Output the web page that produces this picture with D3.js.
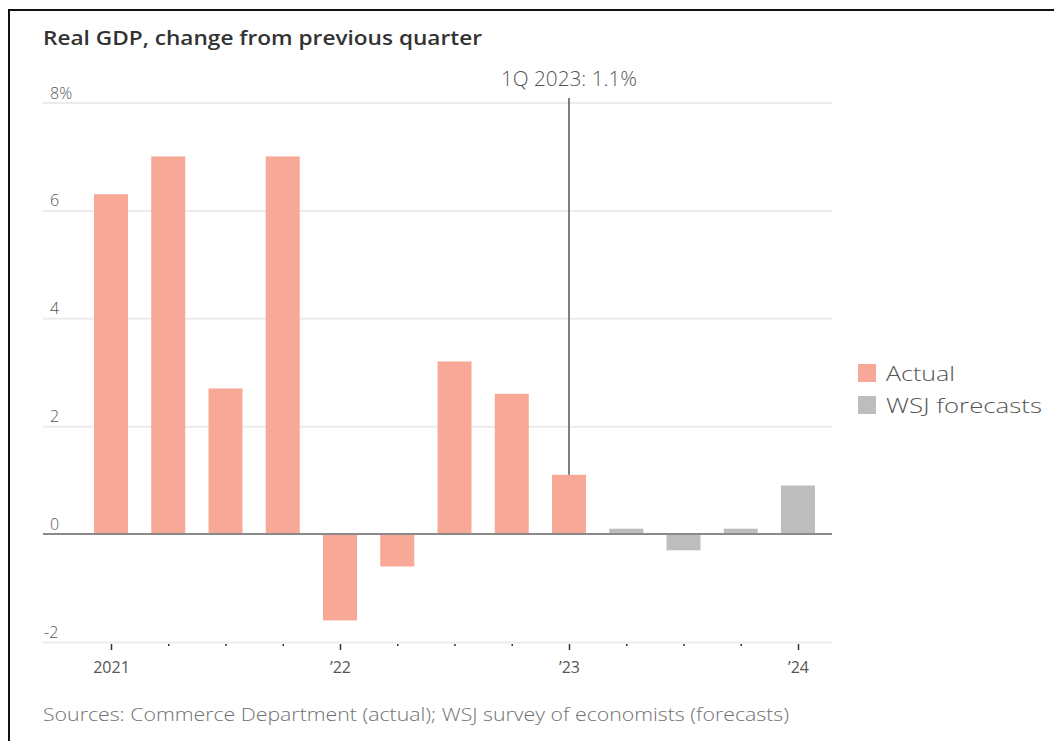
<!DOCTYPE html>
<html><head><meta charset="utf-8">
<script src="https://cdn.jsdelivr.net/npm/d3@7"></script>
<style>
html,body{margin:0;padding:0;background:#fff;}
svg{display:block;}
</style></head>
<body>
<svg id="chart" width="1054" height="741"></svg>
<script>
const quarters = ["2021Q1","2021Q2","2021Q3","2021Q4","2022Q1","2022Q2","2022Q3","2022Q4","2023Q1","2023Q2","2023Q3","2023Q4","2024Q1"];
const values = [6.3, 7.0, 2.7, 7.0, -1.6, -0.6, 3.2, 2.6, 1.1, 0.1, -0.3, 0.1, 0.9];
const seriesType = ["Actual","Actual","Actual","Actual","Actual","Actual","Actual","Actual","Actual","WSJ forecasts","WSJ forecasts","WSJ forecasts","WSJ forecasts"];
const yTicks = [-2, 0, 2, 4, 6, 8];
const yTickLabels = ["-2", "0", "2", "4", "6", "8%"];
const yearTicks = ["2021Q1","2022Q1","2023Q1","2024Q1"];
const yearLabels = ["2021","\u201922","\u201923","\u201924"];
const legendItems = ["Actual","WSJ forecasts"];
const annotationQuarter = "2023Q1";
const annotationText = "1Q 2023: 1.1%";

const colors = {"Actual":"#f7a897","WSJ forecasts":"#bdbdbd"};
const font = "'Open Sans', sans-serif";

const svg = d3.select("#chart");

// frame
svg.append("path").attr("d","M9,741 V10 H1054").attr("fill","none").attr("stroke","#111").attr("stroke-width",2);

const x = d3.scalePoint().domain(quarters).range([111, 798]);
const y = d3.scaleLinear().domain([-2, 8]).range([642, 102.5]);
const barW = 34;
const gridX0 = 43, gridX1 = 832;

// title
svg.append("text").attr("x", 43).attr("y", 45)
  .attr("font-family", font).attr("font-weight", 600).attr("font-size", 19)
  .attr("fill", "#333").attr("textLength", 439).attr("lengthAdjust","spacingAndGlyphs")
  .text("Real GDP, change from previous quarter");

// gridlines
const yAxis = d3.axisLeft(y).tickValues(yTicks.filter(d => d !== 0)).tickSize(-(gridX1 - gridX0)).tickFormat("");
svg.append("g").attr("transform", `translate(${gridX0},0)`).call(yAxis)
  .call(g => g.select(".domain").remove())
  .call(g => g.selectAll(".tick line").attr("stroke", "#ececec").attr("stroke-width", 2));

// y labels
svg.append("g").selectAll("text").data(yTicks).join("text")
  .attr("x", d => d < 0 ? 44 : 50).attr("y", d => y(d) - 4)
  .attr("font-family", font).attr("font-size", 16).attr("fill", "#555")
  .attr("font-weight", 300)
  .text((d, i) => yTickLabels[i]);

// bars
svg.append("g").selectAll("rect").data(quarters).join("rect")
  .attr("x", d => x(d) - barW / 2)
  .attr("y", (d, i) => y(Math.max(0, values[i])))
  .attr("width", barW)
  .attr("height", (d, i) => Math.abs(y(values[i]) - y(0)))
  .attr("fill", (d, i) => colors[seriesType[i]]);

// zero line
svg.append("line").attr("x1", gridX0).attr("x2", gridX1).attr("y1", y(0)).attr("y2", y(0))
  .attr("stroke", "#8a8a8a").attr("stroke-width", 2);

// x axis ticks
const xAxis = d3.axisBottom(x).tickSize(0).tickFormat("");
const xg = svg.append("g").attr("transform", `translate(0,${y(-2)})`).call(xAxis);
xg.select(".domain").remove();
xg.selectAll(".tick").append("line")
  .attr("y1", 2).attr("y2", d => yearTicks.includes(d) ? 8 : 4)
  .attr("stroke", "#333").attr("stroke-width", 1.5);
xg.selectAll(".tick").filter(d => yearTicks.includes(d)).append("text")
  .attr("y", 31).attr("text-anchor", "middle")
  .attr("font-family", font).attr("font-size", 16).attr("fill", "#555")
  .text(d => yearLabels[yearTicks.indexOf(d)]);

// annotation
const ai = quarters.indexOf(annotationQuarter);
svg.append("line").attr("x1", x(annotationQuarter)).attr("x2", x(annotationQuarter))
  .attr("y1", 98).attr("y2", y(values[ai]))
  .attr("stroke", "#555").attr("stroke-width", 1.5);
svg.append("text").attr("x", x(annotationQuarter)).attr("y", 86).attr("text-anchor", "middle")
  .attr("font-family", font).attr("font-size", 20).attr("fill", "#555").attr("font-weight", 300)
  .attr("textLength", 136).attr("lengthAdjust", "spacingAndGlyphs")
  .text(annotationText);

// legend
const lg = svg.append("g").attr("transform", "translate(858,364)");
const legendWidths = [69, 156];
legendItems.forEach((k, i) => {
  lg.append("rect").attr("x", 0).attr("y", i * 32).attr("width", 18).attr("height", 18).attr("fill", colors[k]);
  lg.append("text").attr("x", 28).attr("y", i * 32 + 17)
    .attr("font-family", font).attr("font-size", 21).attr("fill", "#555").attr("font-weight", 300)
    .attr("textLength", legendWidths[i]).attr("lengthAdjust", "spacingAndGlyphs")
    .text(k);
});

// source
svg.append("text").attr("x", 43).attr("y", 721)
  .attr("font-family", font).attr("font-size", 18).attr("fill", "#707070").attr("font-weight", 300)
  .attr("textLength", 746).attr("lengthAdjust", "spacingAndGlyphs")
  .text("Sources: Commerce Department (actual); WSJ survey of economists (forecasts)");
</script>
</body></html>
